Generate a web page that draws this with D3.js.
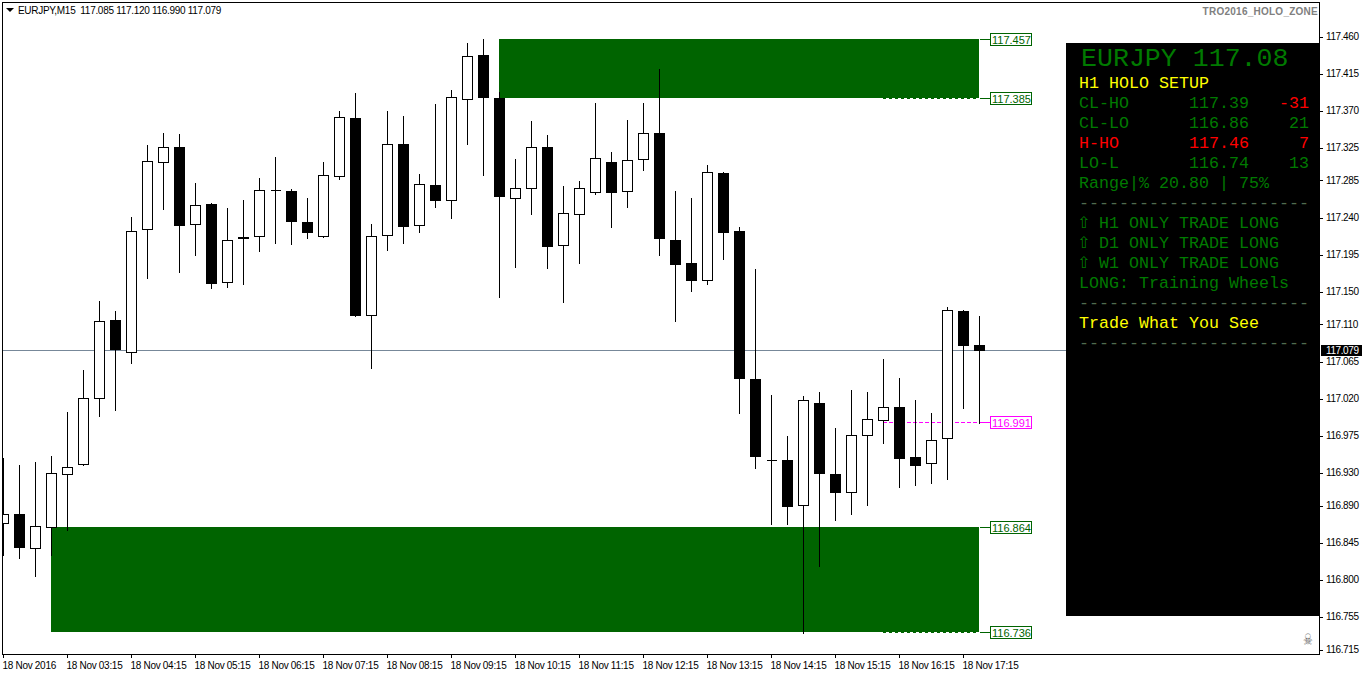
<!DOCTYPE html>
<html>
<head>
<meta charset="utf-8">
<title>EURJPY M15</title>
<script src="https://cdn.jsdelivr.net/npm/d3@7"></script>
<style>
  html, body { margin: 0; padding: 0; background: #fff; overflow: hidden; }
  svg { display: block; }
  text { font-family: "Liberation Sans", Arial, sans-serif; }
  .mono { font-family: "Liberation Mono", "Courier New", monospace; }
</style>
</head>
<body>
<div id="chart"></div>
<script>
// OHLC per bar, 15 minute bars
const opens = [116.869,116.880,116.838,116.864,116.928,116.940,117.021,117.115,117.077,117.226,117.307,117.326,117.232,117.257,117.162,117.216,117.218,117.274,117.272,117.235,117.218,117.291,117.361,117.122,117.219,117.329,117.231,117.280,117.261,117.384,117.438,117.385,117.264,117.276,117.326,117.207,117.244,117.271,117.307,117.272,117.311,117.343,117.213,117.185,117.164,117.294,117.224,117.044,116.945,116.945,116.891,117.015,116.928,116.906,116.976,116.994,117.010,116.949,116.942,116.972,117.126,117.085];
const highs = [116.948,116.939,116.943,116.950,117.004,117.055,117.139,117.126,117.241,117.328,117.343,117.342,117.282,117.258,117.252,117.261,117.288,117.314,117.275,117.264,117.307,117.370,117.391,117.232,117.370,117.363,117.293,117.378,117.395,117.452,117.457,117.393,117.311,117.357,117.340,117.278,117.284,117.379,117.320,117.359,117.379,117.421,117.272,117.264,117.304,117.295,117.229,117.178,117.024,116.975,117.023,117.028,116.984,117.030,117.028,117.068,117.045,117.018,117.002,117.131,117.128,117.120];
const lows = [116.830,116.826,116.804,116.830,116.860,116.939,116.999,117.006,117.063,117.167,117.250,117.174,117.195,117.154,117.156,117.159,117.199,117.209,117.208,117.215,117.216,117.287,117.120,117.057,117.201,117.209,117.222,117.253,117.239,117.329,117.292,117.143,117.180,117.244,117.179,117.137,117.185,117.269,117.229,117.253,117.298,117.195,117.114,117.151,117.159,117.190,117.002,116.936,116.868,116.868,116.735,116.817,116.872,116.880,116.891,116.966,116.913,116.915,116.917,116.922,117.009,116.990];
const closes = [116.880,116.839,116.865,116.930,116.937,117.021,117.114,117.080,117.224,117.309,117.326,117.231,117.255,117.161,117.213,117.215,117.274,117.274,117.236,117.223,117.292,117.362,117.121,117.218,117.329,117.230,117.281,117.261,117.387,117.436,117.386,117.266,117.276,117.326,117.205,117.246,117.276,117.312,117.271,117.310,117.343,117.215,117.183,117.164,117.295,117.223,117.045,116.950,116.945,116.890,117.018,116.929,116.907,116.976,116.995,117.010,116.948,116.939,116.970,117.128,117.085,117.079];

const priceTicks = [117.460,117.415,117.370,117.325,117.285,117.240,117.195,117.150,117.110,117.065,117.020,116.975,116.930,116.890,116.845,116.800,116.755,116.715];
const timeTicks = [0,4,8,12,16,20,24,28,32,36,40,44,48,52,56,60];
const timeLabels = ["18 Nov 2016","18 Nov 03:15","18 Nov 04:15","18 Nov 05:15","18 Nov 06:15","18 Nov 07:15","18 Nov 08:15","18 Nov 09:15","18 Nov 10:15","18 Nov 11:15","18 Nov 12:15","18 Nov 13:15","18 Nov 14:15","18 Nov 15:15","18 Nov 16:15","18 Nov 17:15"];

// holo zones: [bar where it starts, top price, bottom price]
const zoneStarts = [31, 3];
const zoneTops = [117.457, 116.864];
const zoneBottoms = [117.385, 116.736];

const levelPrices = [117.457, 117.385, 116.991, 116.864, 116.736];
const levelColors = ["#006400", "#006400", "#ff00ff", "#006400", "#006400"];
const dottedLevels = [117.385, 116.991, 116.736];
const lastPrice = 117.079;

const GREEN = "#007a00";
const RULE = "#4f6b4f";

const panelTitle = "EURJPY 117.08";
const panelLeft = [
  ["H1 HOLO SETUP", "#ffff00", 1079],
  ["CL-HO", GREEN, 1079],
  ["CL-LO", GREEN, 1079],
  ["H-HO", "#ff0000", 1079],
  ["LO-L", GREEN, 1079],
  ["Range|% 20.80 | 75%", GREEN, 1079],
  ["-----------------------", RULE, 1079],
  ["H1 ONLY TRADE LONG", GREEN, 1099],
  ["D1 ONLY TRADE LONG", GREEN, 1099],
  ["W1 ONLY TRADE LONG", GREEN, 1099],
  ["LONG: Training Wheels", GREEN, 1079],
  ["-----------------------", RULE, 1079],
  ["Trade What You See", "#ffff00", 1079],
  ["-----------------------", RULE, 1079]
];
const panelValues = ["117.39", "116.86", "117.46", "116.74"];
const panelPips = ["-31", "21", "7", "13"];
const panelValueColors = [GREEN, GREEN, "#ff0000", GREEN];
const panelPipColors = ["#ff0000", GREEN, "#ff0000", GREEN];

const W = 1362, H = 675;
const plot = { left: 3, right: 1319, top: 3, bottom: 654 };

const svg = d3.select("#chart").append("svg").attr("width", W).attr("height", H);

const x = d3.scaleLinear().domain([0, 61]).range([3, 979]);
const y = d3.scaleLinear().domain([116.715, 117.46]).range([649.5, 36.5]);
const py = p => Math.round(y(p));

svg.append("defs").append("clipPath").attr("id", "plot-clip")
  .append("rect")
  .attr("x", plot.left).attr("y", plot.top)
  .attr("width", plot.right - plot.left).attr("height", plot.bottom - plot.top);

const g = svg.append("g").attr("clip-path", "url(#plot-clip)").attr("shape-rendering", "crispEdges");

// zones sit under the candles
g.selectAll(".zone")
  .data(zoneStarts)
  .enter().append("rect")
  .attr("class", "zone")
  .attr("x", d => x(d))
  .attr("y", (d, i) => py(zoneTops[i]))
  .attr("width", d => x(61) - x(d))
  .attr("height", (d, i) => py(zoneBottoms[i]) - py(zoneTops[i]))
  .attr("fill", "#006400");

// last price line
g.append("line")
  .attr("x1", plot.left).attr("x2", plot.right)
  .attr("y1", py(lastPrice) + 0.5).attr("y2", py(lastPrice) + 0.5)
  .attr("stroke", "#778899");

// dotted level lines from the last hour of bars
g.selectAll(".dotted")
  .data(dottedLevels)
  .enter().append("line")
  .attr("class", "dotted")
  .attr("x1", x(55)).attr("x2", x(61))
  .attr("y1", d => py(d) + 0.5).attr("y2", d => py(d) + 0.5)
  .attr("stroke", d => d === 116.991 ? "#ff00ff" : "#006400")
  .attr("stroke-dasharray", d => d === 116.991 ? "4,2" : "3,3");

// candles
const bars = g.selectAll(".candle")
  .data(d3.range(opens.length))
  .enter().append("g")
  .attr("class", "candle");

bars.append("line")
  .attr("x1", i => x(i) + 0.5).attr("x2", i => x(i) + 0.5)
  .attr("y1", i => py(highs[i])).attr("y2", i => py(lows[i]) + 1)
  .attr("stroke", "#000");

bars.append("path")
  .attr("d", i => {
    const top = py(Math.max(opens[i], closes[i]));
    const bottom = py(Math.min(opens[i], closes[i]));
    const p = d3.path();
    p.rect(x(i) - 4.5, top + 0.5, 10, bottom - top);
    return p.toString();
  })
  .attr("fill", i => closes[i] < opens[i] ? "#000" : "#fff")
  .attr("stroke", "#000");

// info panel covers the plot
svg.append("rect")
  .attr("x", 1066).attr("y", 43)
  .attr("width", plot.right - 1066).attr("height", 573)
  .attr("fill", "#000");

// frame
svg.append("path")
  .attr("d", `M2.5,2.5H${plot.right + 0.5}V${plot.bottom + 0.5}H2.5Z`)
  .attr("fill", "none").attr("stroke", "#000").attr("shape-rendering", "crispEdges");

// price axis
const yAxis = svg.append("g")
  .attr("transform", `translate(${plot.right},0)`)
  .call(d3.axisRight(y).tickValues(priceTicks).tickSize(4).tickPadding(3).tickFormat(d3.format(".3f")));
yAxis.select(".domain").remove();
yAxis.selectAll("line").attr("shape-rendering", "crispEdges");
yAxis.selectAll("text")
  .attr("fill", "#000").style("font-size", "10px").style("letter-spacing", "-0.4px");

// time axis
const xAxis = svg.append("g")
  .attr("transform", `translate(0,${plot.bottom})`)
  .call(d3.axisBottom(x).tickValues(timeTicks).tickSize(4).tickFormat((d, i) => timeLabels[i]));
xAxis.select(".domain").remove();
xAxis.selectAll("line").attr("shape-rendering", "crispEdges");
xAxis.selectAll("text")
  .attr("text-anchor", "start").attr("dx", "-1").attr("y", 8)
  .attr("fill", "#000").style("font-size", "10px").style("letter-spacing", "-0.3px");

// price tag for the last price
svg.append("rect")
  .attr("x", 1321).attr("y", py(lastPrice) - 5)
  .attr("width", 41).attr("height", 11)
  .attr("fill", "#000");
svg.append("text")
  .attr("x", 1326).attr("y", py(lastPrice) + 4)
  .attr("fill", "#fff").style("font-size", "10px").style("letter-spacing", "-0.4px")
  .text(d3.format(".3f")(lastPrice));

// level tags on the right of the zones
const tags = svg.selectAll(".tag")
  .data(levelPrices)
  .enter().append("g")
  .attr("class", "tag")
  .attr("transform", d => `translate(0,${py(d)})`);

tags.append("line")
  .attr("x1", 980).attr("x2", 990).attr("y1", 0.5).attr("y2", 0.5)
  .attr("stroke", (d, i) => levelColors[i]).attr("shape-rendering", "crispEdges");
tags.append("rect")
  .attr("x", 990.5).attr("y", -5.5).attr("width", 41).attr("height", 12)
  .attr("fill", "#fff").attr("stroke", (d, i) => levelColors[i]).attr("shape-rendering", "crispEdges");
tags.append("text")
  .attr("x", 992).attr("y", 4.5)
  .attr("fill", (d, i) => levelColors[i]).style("font-size", "11px")
  .text(d => d3.format(".3f")(d));

// chart title and indicator name
svg.append("path").attr("d", "M6,8H14L10,12Z").attr("fill", "#000");
svg.append("text")
  .attr("x", 18).attr("y", 14).attr("fill", "#000")
  .style("font-size", "10px").style("letter-spacing", "-0.3px")
  .style("white-space", "pre")
  .text("EURJPY,M15  117.085 117.120 116.990 117.079");
svg.append("text")
  .attr("x", 1318).attr("y", 15).attr("text-anchor", "end").attr("fill", "#808080")
  .style("font-size", "10px").style("font-weight", "bold").style("letter-spacing", "0.25px")
  .text("TRO2016_HOLO_ZONE");

// panel text
svg.append("text").attr("class", "mono")
  .attr("x", 1081).attr("y", 66).attr("fill", GREEN).style("font-size", "26.6px")
  .text(panelTitle);

const rowY = i => 88 + i * 20;

svg.selectAll(".panel-left")
  .data(panelLeft)
  .enter().append("text")
  .attr("class", "mono panel-left")
  .attr("x", d => d[2]).attr("y", (d, i) => rowY(i))
  .attr("fill", d => d[1]).style("font-size", "16.67px")
  .text(d => d[0]);

svg.selectAll(".panel-value")
  .data(panelValues)
  .enter().append("text")
  .attr("class", "mono panel-value")
  .attr("x", 1189).attr("y", (d, i) => rowY(i + 1))
  .attr("fill", (d, i) => panelValueColors[i]).style("font-size", "16.67px")
  .text(d => d);

svg.selectAll(".panel-pip")
  .data(panelPips)
  .enter().append("text")
  .attr("class", "mono panel-pip")
  .attr("x", 1309).attr("y", (d, i) => rowY(i + 1)).attr("text-anchor", "end")
  .attr("fill", (d, i) => panelPipColors[i]).style("font-size", "16.67px")
  .text(d => d);

// outline arrows in front of the three trade rows
svg.selectAll(".arrow")
  .data([7, 8, 9])
  .enter().append("text")
  .attr("class", "arrow")
  .attr("x", 1077).attr("y", d => rowY(d))
  .attr("fill", GREEN).style("font-family", "'DejaVu Sans'").style("font-size", "16px")
  .text("\u21E7");

// skull mark, squeezed to the narrow glyph of the original
svg.append("text")
  .attr("transform", "translate(1303,645) scale(0.9,1.3)")
  .attr("fill", "#666")
  .style("font-family", "'DejaVu Sans'").style("font-size", "12px")
  .text("\u2620");
</script>
</body>
</html>
